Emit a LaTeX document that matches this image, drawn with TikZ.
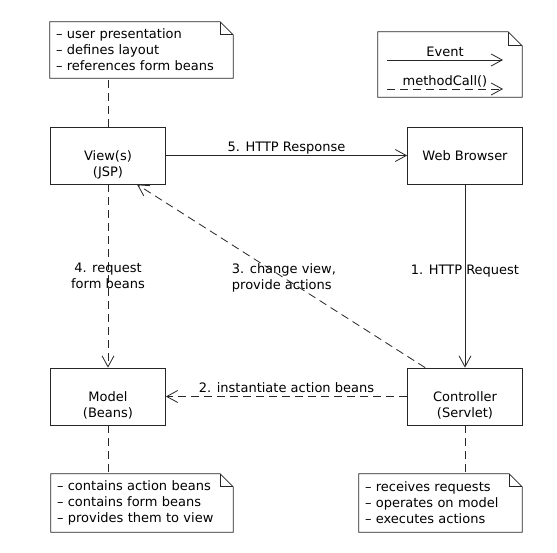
\documentclass[tikz,border=0pt]{standalone}
\usepackage{fontspec}
\setmainfont{DejaVu Sans}
\usetikzlibrary{arrows.meta,calc}
\newcommand\drawnoteframe[2]{% node name, fold size
  \draw[ln] (#1.north west) -- ([xshift=-#2]#1.north east) -- ([yshift=-#2]#1.north east) -- (#1.south east) -- (#1.south west) -- cycle;
  \draw[ln] ([xshift=-#2]#1.north east) |- ([yshift=-#2]#1.north east);
}
\newcommand\lowertext{\rule{0pt}{28pt}}
\begin{document}
\begin{tikzpicture}[x=1pt,y=-1pt,
  font=\fontsize{13}{16}\selectfont,
  every node/.style={inner sep=0pt},
  ln/.style={line width=0.8pt, draw=black!85},
  evt/.style={ln, -{Straight Barb[length=11pt,width=12pt]}},
  call/.style={evt, dash pattern=on 8pt off 5pt},
  dline/.style={ln, dash pattern=on 8pt off 5pt},
  box/.style={ln, draw, minimum width=115pt, minimum height=57pt, align=center},
  notebox/.style={inner xsep=6pt, inner ysep=0pt, align=left}
]
\fill[white] (0,0) rectangle (557,553);
\useasboundingbox (0,0) rectangle (557,553);

% notes
\node[notebox, text width=171pt, minimum height=56pt] (n1) at (141.5,50)
  {\textendash{} user presentation\\\textendash{} defines layout\\\textendash{} references form beans};
\drawnoteframe{n1}{13pt}
\node[notebox, text width=170pt, minimum height=58pt] (n3) at (142,503)
  {\textendash{} contains action beans\\\textendash{} contains form beans\\\textendash{} provides them to view};
\drawnoteframe{n3}{13pt}
\node[notebox, text width=151pt, minimum height=58pt] (n4) at (440.5,503)
  {\textendash{} receives requests\\\textendash{} operates on model\\\textendash{} executes actions};
\drawnoteframe{n4}{13pt}

% legend
\node[minimum width=144pt, minimum height=65pt] (legend) at (450,64.5) {};
\drawnoteframe{legend}{14pt}
\coordinate (e1) at (387,60);
\coordinate (e2) at (503,60);
\coordinate (m1) at (387,89);
\coordinate (m2) at (503,89);
\draw[evt] (e1) -- (e2) node[midway, anchor=base, yshift=3.3pt] (lblE) {Event};
\draw[call] (m1) -- (m2) node[midway, anchor=base, yshift=3pt] (lblM) {methodCall()};

% boxes
\node[box] (view) at (108,155.5) {\lowertext View(s)\\(JSP)};
\node[box] (browser) at (465,155.5) {Web Browser};
\node[box] (model) at (108,396.5) {\lowertext Model\\(Beans)};
\node[box] (ctrl) at (465,396.5) {\lowertext Controller\\(Servlet)};

% note attachments
\draw[dline] (view.north) -- (view.north |- n1.south);
\draw[dline] (model.south) -- (model.south |- n3.north);
\draw[dline] (ctrl.south) -- (ctrl.south |- n4.north);

% connectors
\draw[evt] (view.east) -- (browser.west)
  node[midway, anchor=base, yshift=3.5pt] (l5) {5. HTTP Response};
\draw[evt] (browser.south) -- (ctrl.north)
  node[pos=0.49, anchor=base] (l1) {1. HTTP Request};
\draw[call] (ctrl.west) -- (model.east)
  node[midway, anchor=base, yshift=4.5pt] (l2) {2. instantiate action beans};
\draw[call] ([xshift=18pt]ctrl.north west) -- ([xshift=29pt]view.south)
  node[pos=0.49, align=left] (l3) {3. change view,\\provide actions};
\draw[call] (view.south) -- (model.north)
  node[pos=0.5, align=center] (l4) {4. request\\form beans};
\end{tikzpicture}
\end{document}
